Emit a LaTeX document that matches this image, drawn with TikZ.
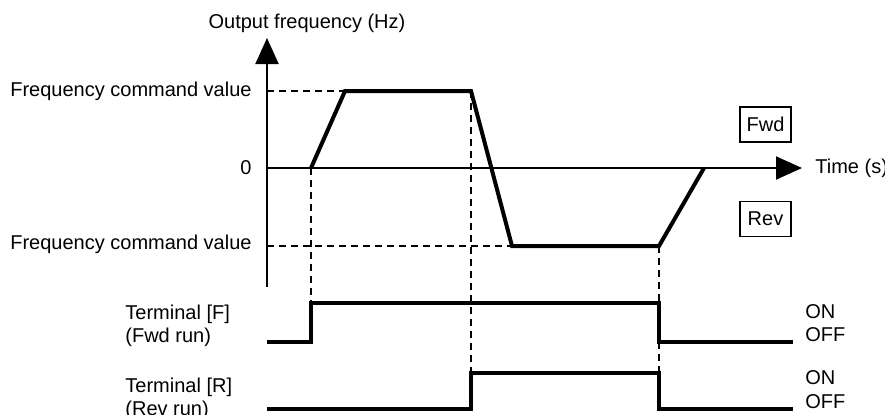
\documentclass[tikz,border=0pt]{standalone}
\usepackage{fontspec}
\setmainfont{Liberation Sans}
\usetikzlibrary{arrows.meta}
\begin{document}
\begin{tikzpicture}[x=0.5pt,y=-0.5pt,
  font=\fontsize{10}{12}\selectfont,
  axisline/.style={line width=1pt},
  wave/.style={line width=2pt,line join=miter},
  guide/.style={line width=0.75pt,dash pattern=on 3.5pt off 2.5pt},
  tag/.style={draw,line width=0.75pt,minimum width=25.5pt,minimum height=17.5pt,inner sep=0pt},
  lbl/.style={inner sep=0pt},
  bigtip/.style={-{Triangle[length=13pt,width=11.5pt]}}]
\useasboundingbox (0,0) rectangle (885,414);

% axes
\coordinate (O) at (267,168);
\coordinate (ytop) at (267,38);
\coordinate (ybot) at (267,287);
\coordinate (xend) at (802,168);
\draw[axisline,bigtip] (ybot) -- (ytop);
\draw[axisline,bigtip] (O) -- (xend);

% frequency profile
\coordinate (w0) at (311,168);
\coordinate (w1) at (345,91);
\coordinate (w2) at (471,91);
\coordinate (w3) at (512,246);
\coordinate (w4) at (659,246);
\coordinate (w5) at (704,168);
\draw[wave] (w0) -- (w1) -- (w2) -- (w3) -- (w4) -- (w5);

% command levels
\coordinate (fh) at (267,91);
\coordinate (fl) at (267,246);
\draw[guide] (fh) -- (w1);
\draw[guide] (fl) -- (w3);

% terminal F
\coordinate (f0) at (267,342);
\coordinate (f1) at (311,342);
\coordinate (f2) at (311,303);
\coordinate (f3) at (659,303);
\coordinate (f4) at (659,342);
\coordinate (f5) at (793,342);
\draw[wave] (f0) -- (f1) -- (f2) -- (f3) -- (f4) -- (f5);

% terminal R
\coordinate (r0) at (267,409);
\coordinate (r1) at (471,409);
\coordinate (r2) at (471,373);
\coordinate (r3) at (659,373);
\coordinate (r4) at (659,409);
\coordinate (r5) at (793,409);
\draw[wave] (r0) -- (r1) -- (r2) -- (r3) -- (r4) -- (r5);

% timing guides
\draw[guide] (w0) -- (f2);
\draw[guide] (w2) -- (r2);
\draw[guide] (w4) -- (r3);

% labels
\node[lbl] (ylab) at (307,23) {Output frequency (Hz)};
\node[lbl,anchor=east] (fcmd1) at (252,91) {Frequency command value};
\node[lbl,anchor=east] (zero) at (252,168) {0};
\node[lbl,anchor=east] (fcmd2) at (252,244) {Frequency command value};
\node[lbl,anchor=west] (tlab) at (815,168) {Time (s)};
\node[tag] (fwd) at (765.5,124.5) {Fwd};
\node[tag] (rev) at (765.5,219) {Rev};

\node[lbl,anchor=west] (tf1) at (125,314) {Terminal [F]};
\node[lbl,anchor=west] (tf2) at (125,337) {(Fwd run)};
\node[lbl,anchor=west] (tr1) at (125,387) {Terminal [R]};
\node[lbl,anchor=west] (tr2) at (125,410) {(Rev run)};

\node[lbl,anchor=west] (on1) at (805,312) {ON};
\node[lbl,anchor=west] (off1) at (805,335) {OFF};
\node[lbl,anchor=west] (on2) at (805,378) {ON};
\node[lbl,anchor=west] (off2) at (805,402) {OFF};
\end{tikzpicture}
\end{document}
